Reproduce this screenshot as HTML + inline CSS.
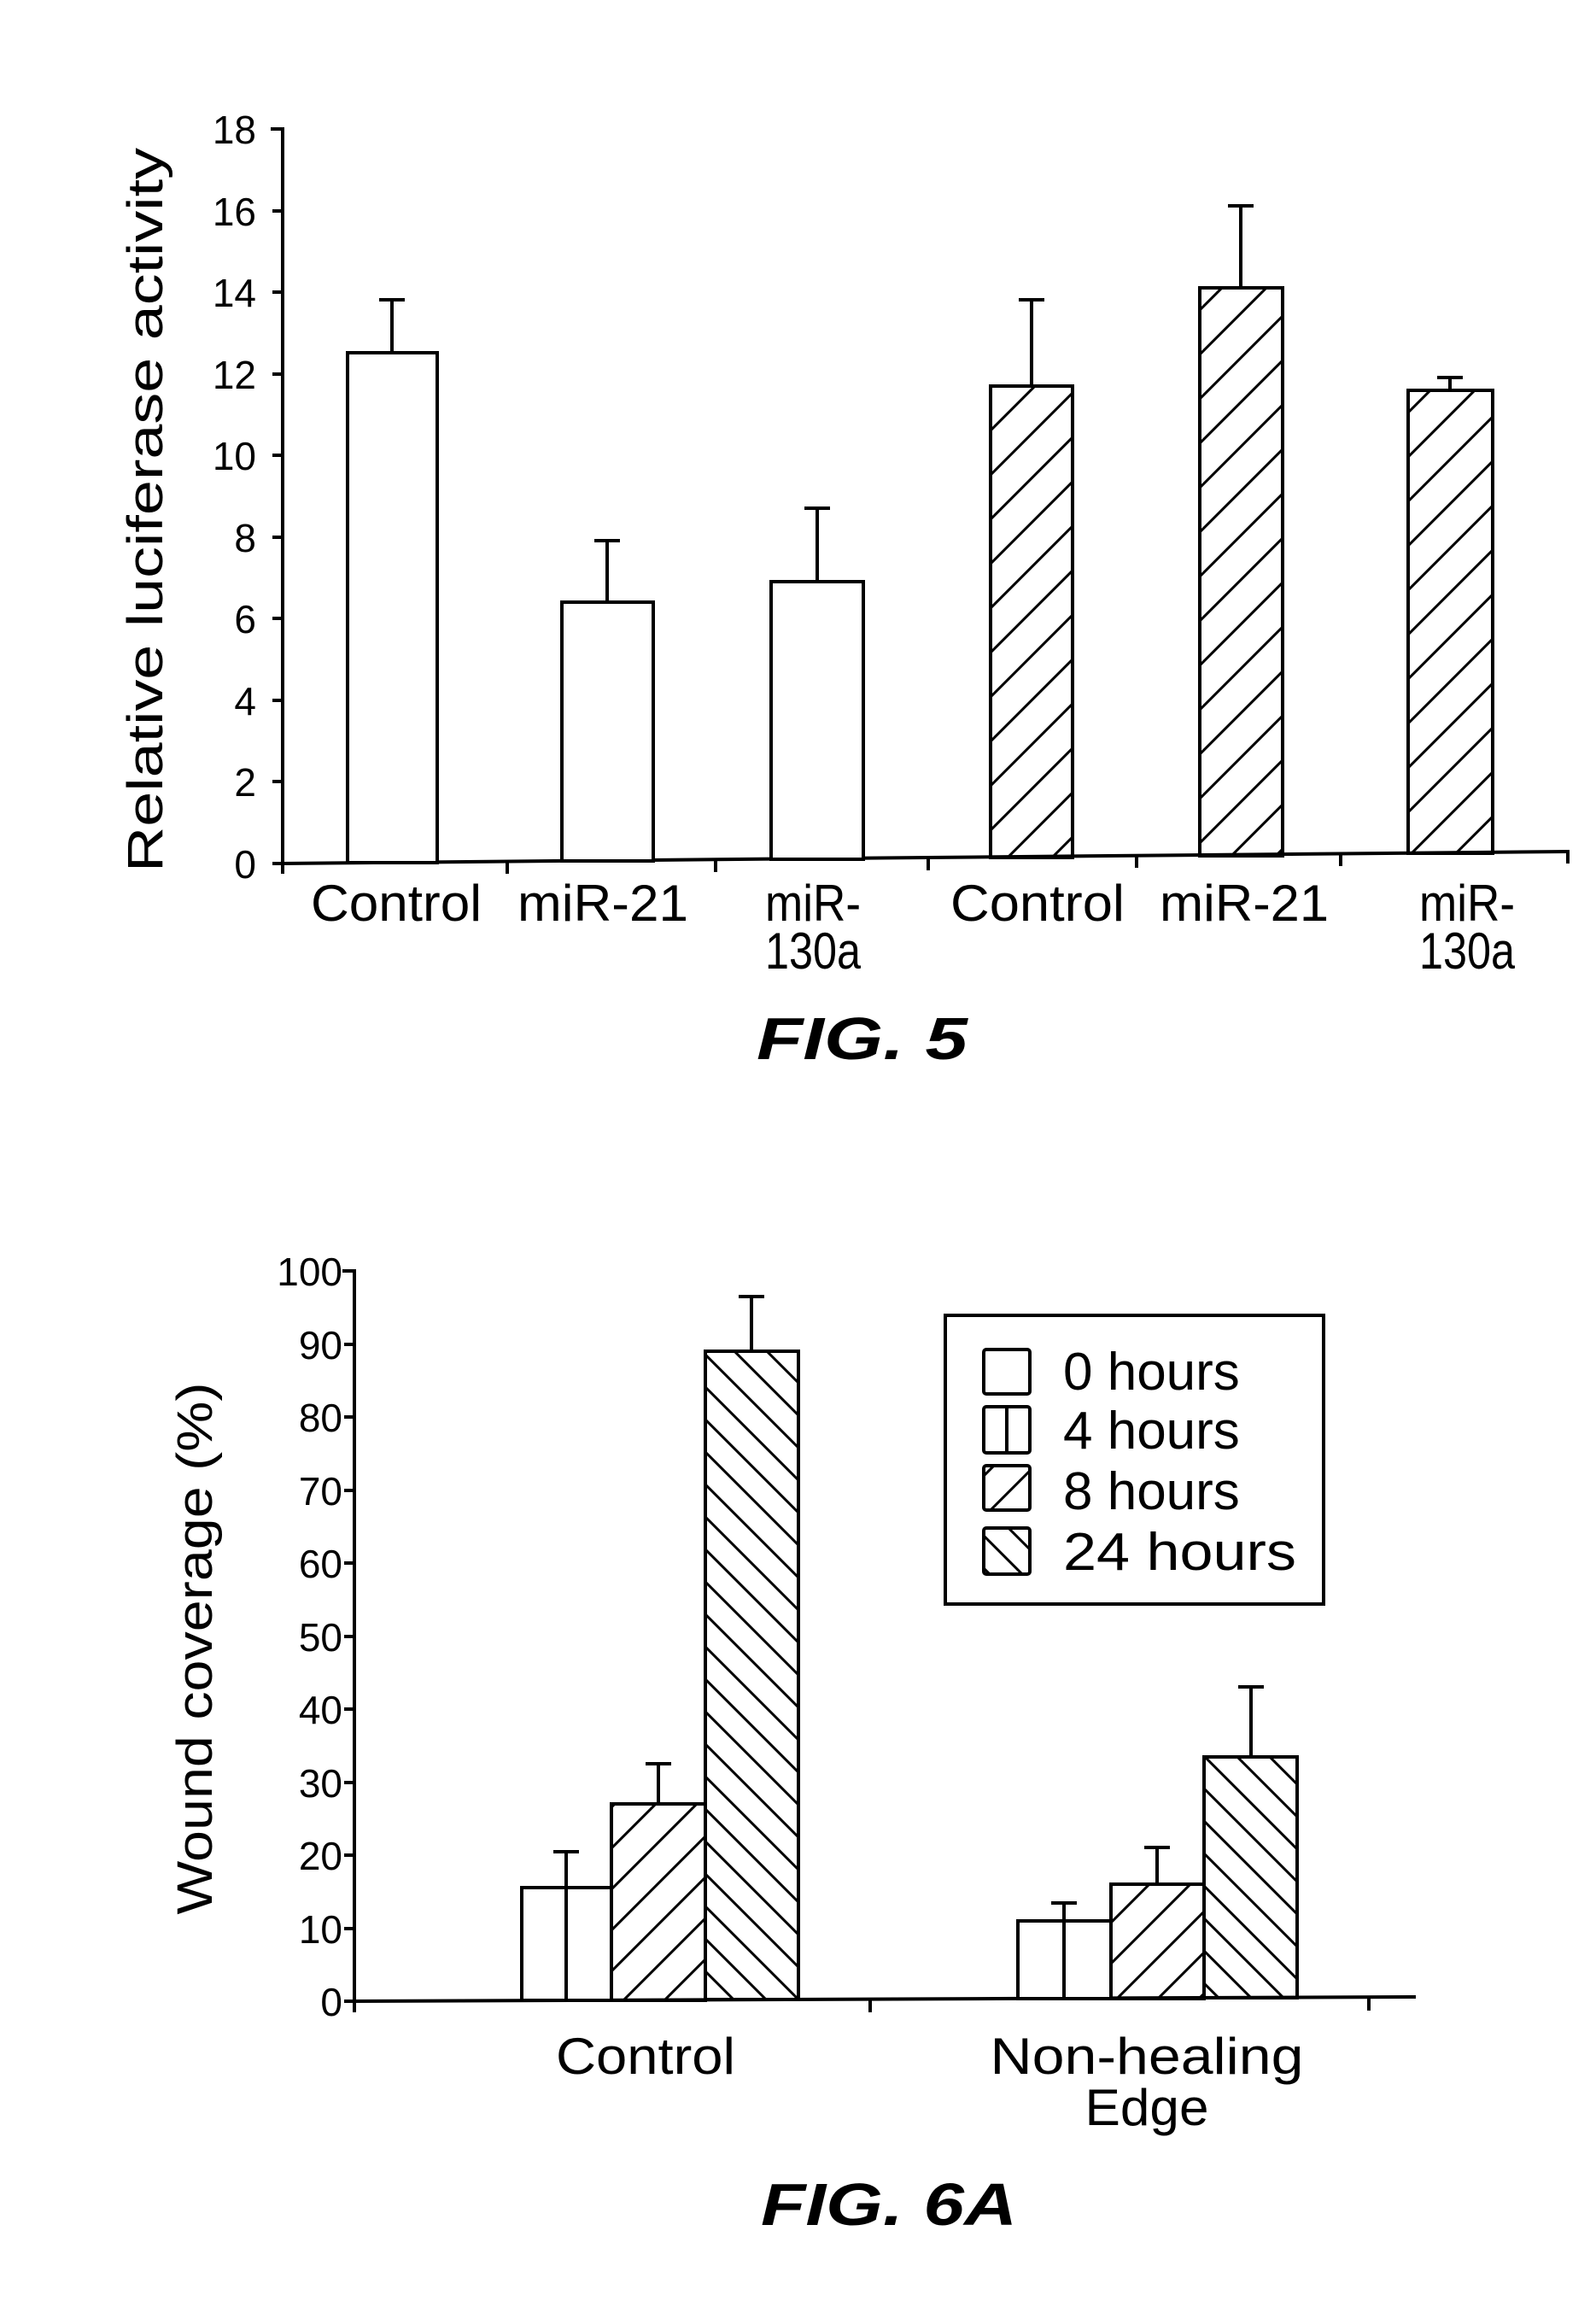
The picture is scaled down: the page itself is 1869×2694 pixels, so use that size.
<!DOCTYPE html>
<html><head><meta charset="utf-8"><style>
html,body{margin:0;padding:0;background:#fff}
svg{display:block}
text{font-family:"Liberation Sans",sans-serif;fill:#000}
</style></head><body>
<svg width="1869" height="2694" viewBox="0 0 1869 2694" xmlns="http://www.w3.org/2000/svg">
<defs>
<pattern id="h5" patternUnits="userSpaceOnUse" width="52" height="52"><path d="M-13,13 L13,-13 M0,52 L52,0 M39,65 L65,39" stroke="#000" stroke-width="3"/></pattern>
<pattern id="h8" patternUnits="userSpaceOnUse" width="48" height="48"><path d="M-12,12 L12,-12 M0,48 L48,0 M36,60 L60,36" stroke="#000" stroke-width="3"/></pattern>
<pattern id="h24" patternUnits="userSpaceOnUse" width="38" height="38"><path d="M-10,28 L10,48 M0,0 L38,38 M28,-10 L48,10" stroke="#000" stroke-width="3"/></pattern>
</defs>

<!-- FIG 5 -->
<g stroke="#000" stroke-width="4" fill="none">
<line x1="331" y1="149" x2="331" y2="1023"/>
<line x1="329" y1="1011" x2="1838" y2="997"/>
<line x1="317" y1="151" x2="331" y2="151"/>
<line x1="319" y1="247" x2="331" y2="247"/>
<line x1="319" y1="342" x2="331" y2="342"/>
<line x1="319" y1="438" x2="331" y2="438"/>
<line x1="319" y1="533" x2="331" y2="533"/>
<line x1="319" y1="629" x2="331" y2="629"/>
<line x1="319" y1="724" x2="331" y2="724"/>
<line x1="319" y1="820" x2="331" y2="820"/>
<line x1="319" y1="915" x2="331" y2="915"/>
<line x1="319" y1="1011" x2="331" y2="1011"/>
<line x1="594" y1="1009" x2="594" y2="1023"/>
<line x1="838" y1="1007" x2="838" y2="1021"/>
<line x1="1087" y1="1005" x2="1087" y2="1019"/>
<line x1="1331" y1="1002" x2="1331" y2="1016"/>
<line x1="1570" y1="1000" x2="1570" y2="1014"/>
<line x1="1836" y1="997" x2="1836" y2="1011"/>
</g>
<g stroke="#000" stroke-width="4">
<rect x="407" y="413" width="105" height="597" fill="#fff"/>
<rect x="658" y="705" width="107" height="303" fill="#fff"/>
<rect x="903" y="681" width="108" height="325" fill="#fff"/>
<rect x="1160" y="452" width="96" height="552" fill="url(#h5)"/>
<rect x="1405" y="337" width="97" height="665" fill="url(#h5)"/>
<rect x="1649" y="457" width="99" height="542" fill="url(#h5)"/>
<path d="M459,413 V351 M444,351 H474 M711,705 V633 M696,633 H726 M957,681 V595 M942,595 H972 M1208,452 V351 M1193,351 H1223 M1453,337 V241 M1438,241 H1468 M1698,457 V442 M1683,442 H1713" fill="none"/>
</g>
<g font-size="46" text-anchor="end">
<text x="300" y="168">18</text><text x="300" y="264">16</text><text x="300" y="359">14</text>
<text x="300" y="455">12</text><text x="300" y="550">10</text><text x="300" y="646">8</text>
<text x="300" y="741">6</text><text x="300" y="837">4</text><text x="300" y="932">2</text><text x="300" y="1028">0</text>
</g>
<text transform="translate(190,597) rotate(-90)" font-size="58" text-anchor="middle" textLength="848" lengthAdjust="spacingAndGlyphs">Relative luciferase activity</text>
<g font-size="60" text-anchor="middle">
<text x="464" y="1078" textLength="200" lengthAdjust="spacingAndGlyphs">Control</text>
<text x="706" y="1078" textLength="200" lengthAdjust="spacingAndGlyphs">miR-21</text>
<text x="952" y="1078" textLength="112" lengthAdjust="spacingAndGlyphs">miR-</text>
<text x="952" y="1134" textLength="112" lengthAdjust="spacingAndGlyphs">130a</text>
<text x="1215" y="1078" textLength="204" lengthAdjust="spacingAndGlyphs">Control</text>
<text x="1457" y="1078" textLength="198" lengthAdjust="spacingAndGlyphs">miR-21</text>
<text x="1718" y="1078" textLength="112" lengthAdjust="spacingAndGlyphs">miR-</text>
<text x="1718" y="1134" textLength="112" lengthAdjust="spacingAndGlyphs">130a</text>
</g>
<text x="886" y="1240" font-size="70" font-weight="bold" font-style="italic" textLength="247" lengthAdjust="spacingAndGlyphs">FIG. 5</text>

<!-- FIG 6A -->
<g stroke="#000" stroke-width="4" fill="none">
<line x1="415" y1="1486" x2="415" y2="2356"/>
<line x1="413" y1="2343" x2="1658" y2="2338"/>
<line x1="401" y1="1488" x2="415" y2="1488"/>
<line x1="403" y1="1574" x2="415" y2="1574"/>
<line x1="403" y1="1659" x2="415" y2="1659"/>
<line x1="403" y1="1745" x2="415" y2="1745"/>
<line x1="403" y1="1830" x2="415" y2="1830"/>
<line x1="403" y1="1916" x2="415" y2="1916"/>
<line x1="403" y1="2001" x2="415" y2="2001"/>
<line x1="403" y1="2087" x2="415" y2="2087"/>
<line x1="403" y1="2172" x2="415" y2="2172"/>
<line x1="403" y1="2258" x2="415" y2="2258"/>
<line x1="403" y1="2343" x2="415" y2="2343"/>
<line x1="1019" y1="2341" x2="1019" y2="2356"/>
<line x1="1603" y1="2339" x2="1603" y2="2354"/>
</g>
<g stroke="#000" stroke-width="4">
<rect x="611" y="2210" width="105" height="132" fill="#fff"/>
<line x1="663" y1="2210" x2="663" y2="2342"/>
<rect x="716" y="2112" width="110" height="230" fill="url(#h8)"/>
<rect x="826" y="1582" width="109" height="759" fill="url(#h24)"/>
<rect x="1192" y="2249" width="109" height="91" fill="#fff"/>
<line x1="1246" y1="2249" x2="1246" y2="2340"/>
<rect x="1301" y="2206" width="109" height="134" fill="url(#h8)"/>
<rect x="1410" y="2057" width="109" height="282" fill="url(#h24)"/>
<path d="M663,2210 V2168 M648,2168 H678 M771,2112 V2065 M756,2065 H786 M880,1582 V1518 M865,1518 H895 M1246,2249 V2228 M1231,2228 H1261 M1355,2206 V2163 M1340,2163 H1370 M1465,2057 V1975 M1450,1975 H1480" fill="none"/>
</g>
<g font-size="46" text-anchor="end">
<text x="401" y="1505">100</text><text x="401" y="1591">90</text><text x="401" y="1676">80</text>
<text x="401" y="1762">70</text><text x="401" y="1847">60</text><text x="401" y="1933">50</text>
<text x="401" y="2018">40</text><text x="401" y="2104">30</text><text x="401" y="2189">20</text>
<text x="401" y="2275">10</text><text x="401" y="2360">0</text>
</g>
<text transform="translate(248,1930) rotate(-90)" font-size="58" text-anchor="middle" textLength="623" lengthAdjust="spacingAndGlyphs">Wound coverage (%)</text>
<g font-size="60" text-anchor="middle">
<text x="756" y="2428" textLength="210" lengthAdjust="spacingAndGlyphs">Control</text>
<text x="1343" y="2428" textLength="367" lengthAdjust="spacingAndGlyphs">Non-healing</text>
<text x="1343" y="2488" textLength="145" lengthAdjust="spacingAndGlyphs">Edge</text>
</g>
<g stroke="#000" stroke-width="4">
<rect x="1107" y="1540" width="443" height="338" fill="#fff"/>
<rect x="1152" y="1580" width="54" height="52" fill="#fff" rx="3"/>
<rect x="1152" y="1647" width="54" height="54" fill="#fff" rx="3"/>
<line x1="1179" y1="1647" x2="1179" y2="1701"/>
<rect x="1152" y="1716" width="54" height="52" fill="url(#h8)" rx="3"/>
<rect x="1152" y="1789" width="54" height="54" fill="url(#h24)" rx="3"/>
</g>
<g font-size="62">
<text x="1245" y="1627">0 hours</text>
<text x="1245" y="1696">4 hours</text>
<text x="1245" y="1767">8 hours</text>
<text x="1245" y="1838" textLength="273" lengthAdjust="spacingAndGlyphs">24 hours</text>
</g>
<text x="891" y="2605" font-size="70" font-weight="bold" font-style="italic" textLength="300" lengthAdjust="spacingAndGlyphs">FIG. 6A</text>
</svg>
</body></html>
